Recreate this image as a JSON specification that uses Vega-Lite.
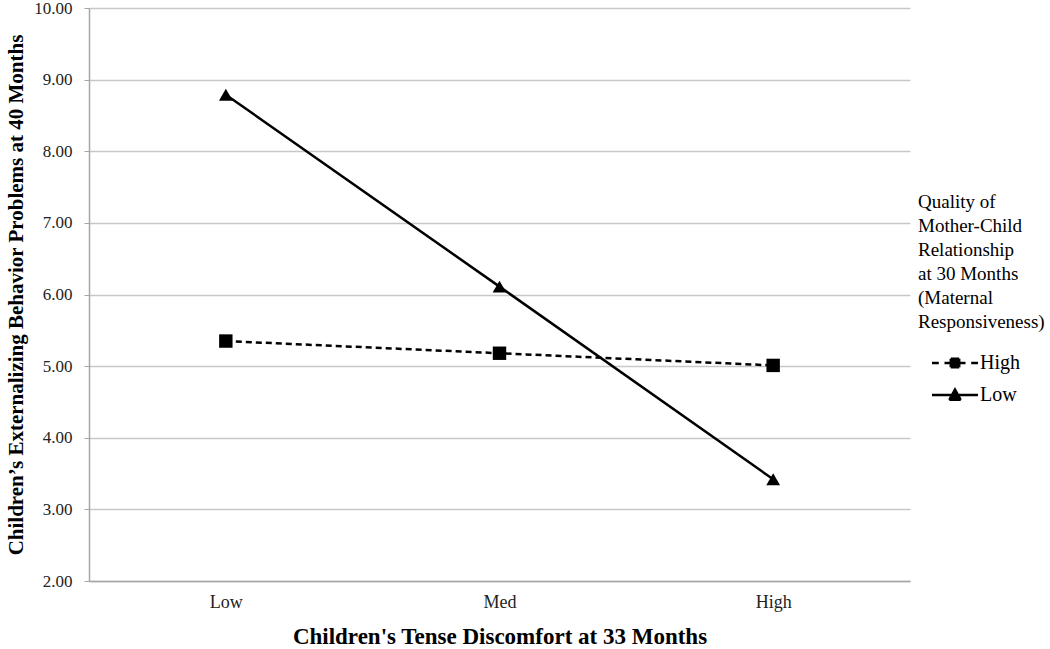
{
  "$schema": "https://vega.github.io/schema/vega-lite/v6.json",
  "width": 821,
  "height": 573,
  "autosize": {"type": "none"},
  "padding": {"left": 89, "top": 8, "right": 140, "bottom": 68},
  "background": "white",
  "config": {
    "font": "Liberation Serif",
    "view": {"stroke": null}
  },
  "data": {
    "values": [
      {"discomfort": "Low", "responsiveness": "High", "value": 5.35},
      {"discomfort": "Med", "responsiveness": "High", "value": 5.18},
      {"discomfort": "High", "responsiveness": "High", "value": 5.01},
      {"discomfort": "Low", "responsiveness": "Low", "value": 8.79},
      {"discomfort": "Med", "responsiveness": "Low", "value": 6.11},
      {"discomfort": "High", "responsiveness": "Low", "value": 3.42}
    ]
  },
  "encoding": {
    "x": {
      "field": "discomfort",
      "type": "ordinal",
      "sort": ["Low", "Med", "High"],
      "scale": {"type": "point", "padding": 0.5},
      "axis": {
        "title": "Children's Tense Discomfort at 33 Months",
        "titleFont": "Liberation Serif",
        "titleFontSize": 23,
        "titleFontWeight": "bold",
        "titleColor": "black",
        "titlePadding": 14,
        "labelFont": "Liberation Serif",
        "labelFontSize": 18,
        "labelColor": "#222",
        "labelAngle": 0,
        "labelPadding": 12,
        "ticks": false,
        "domainColor": "#a6a6a6",
        "domainWidth": 1.5,
        "grid": false
      }
    },
    "y": {
      "field": "value",
      "type": "quantitative",
      "scale": {"domain": [2, 10], "nice": false, "zero": false},
      "axis": {
        "title": "Children’s Externalizing Behavior Problems at 40 Months",
        "titleFont": "Liberation Serif",
        "titleFontSize": 21,
        "titleFontWeight": "bold",
        "titleColor": "black",
        "titlePadding": 7,
        "labelFont": "Liberation Serif",
        "labelFontSize": 17,
        "labelColor": "#222",
        "labelPadding": 12,
        "format": ".2f",
        "values": [2, 3, 4, 5, 6, 7, 8, 9, 10],
        "tickSize": 5,
        "tickColor": "#a6a6a6",
        "domainColor": "#a6a6a6",
        "domainWidth": 1.5,
        "grid": true,
        "gridColor": "#c8c8c8",
        "gridWidth": 1.5
      }
    }
  },
  "layer": [
    {
      "transform": [{"filter": "datum.responsiveness === 'High'"}],
      "mark": {"type": "line", "color": "black", "strokeWidth": 2.5, "strokeDash": [6, 4]},
      "encoding": {}
    },
    {
      "transform": [{"filter": "datum.responsiveness === 'Low'"}],
      "mark": {"type": "line", "color": "black", "strokeWidth": 2.5},
      "encoding": {}
    },
    {
      "transform": [{"filter": "datum.responsiveness === 'High'"}],
      "mark": {"type": "point", "shape": "square", "filled": true, "color": "black", "opacity": 1, "size": 180}
    },
    {
      "transform": [{"filter": "datum.responsiveness === 'Low'"}],
      "mark": {"type": "point", "shape": "triangle-up", "filled": true, "color": "black", "opacity": 1, "size": 190}
    },
    {
      "mark": {"type": "point", "filled": false, "color": "black", "strokeWidth": 2.5, "opacity": 0},
      "encoding": {
        "shape": {
          "field": "responsiveness",
          "type": "nominal",
          "scale": {
            "domain": ["High", "Low"],
            "range": [
              "M-3.83,0L-2.7,0M-1.75,0L1.75,0M2.7,0L3.83,0M-0.7,-0.7L0.7,-0.7M-0.7,-0.35L0.7,-0.35M-0.7,0.35L0.7,0.35M-0.7,0.7L0.7,0.7M-0.7,-0.7L-0.7,0.7M0.7,-0.7L0.7,0.7M0,-0.7L0,0.7",
              "M-3.83,0L3.83,0M-0.95,0.8L0.95,0.8M-0.75,0.45L0.75,0.45M-0.55,0.1L0.55,0.1M-0.35,-0.25L0.35,-0.25M-0.15,-0.6L0.15,-0.6M-0.95,0.8L0,-0.9L0.95,0.8"
            ]
          },
          "legend": {
            "title": ["Quality of", "Mother-Child", "Relationship", "at 30 Months", "(Maternal", "Responsiveness)"],
            "orient": "none",
            "legendX": 829,
            "legendY": 185,
            "padding": 0,
            "titleFont": "Liberation Serif",
            "titleFontSize": 19,
            "titleFontWeight": "normal",
            "titleColor": "black",
            "titleLineHeight": 24,
            "titleLimit": 300,
            "titlePadding": 21,
            "labelFont": "Liberation Serif",
            "labelFontSize": 20,
            "labelColor": "black",
            "symbolSize": 144,
            "symbolOffset": 27,
            "labelOffset": 15,
            "rowPadding": 11,
            "symbolOpacity": 1,
            "symbolStrokeWidth": 2.5,
            "symbolStrokeColor": "black",
            "symbolFillColor": "black"
          }
        }
      }
    }
  ]
}
